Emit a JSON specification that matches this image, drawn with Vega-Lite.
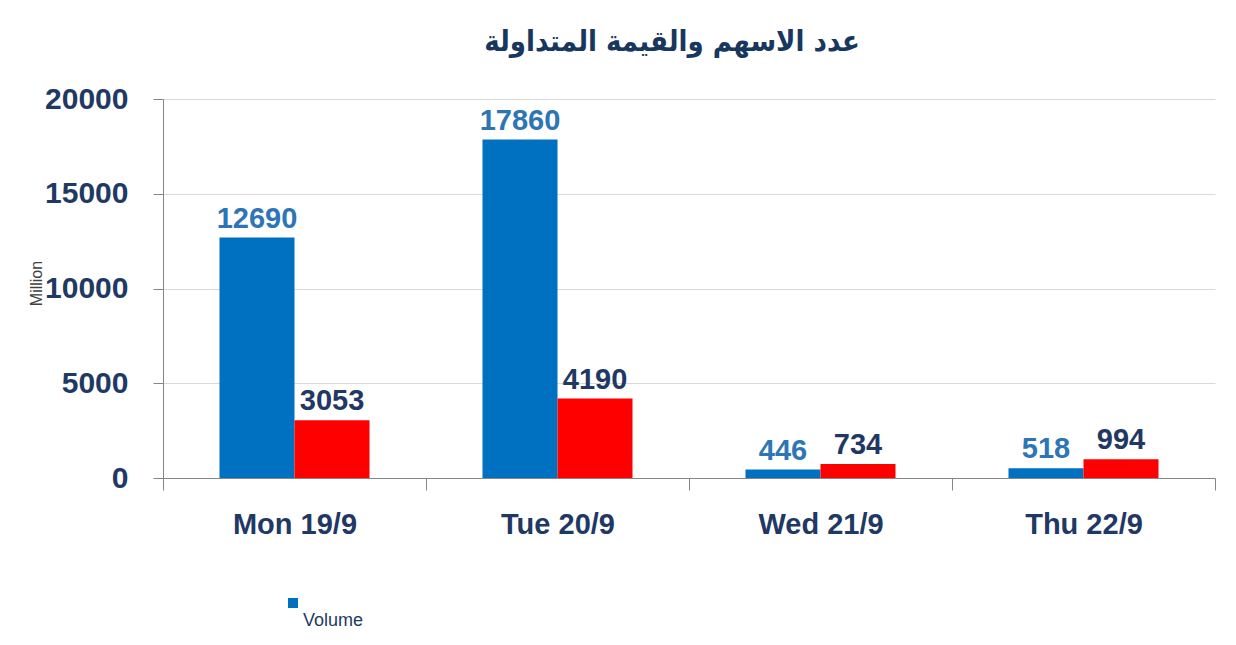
{
  "$schema": "https://vega.github.io/schema/vega-lite/v6.json",
  "width": 1052,
  "height": 379,
  "autosize": "none",
  "padding": {"left": 163, "top": 99, "right": 21, "bottom": 167},
  "background": "white",
  "title": {
    "text": "عدد الاسهم والقيمة المتداولة",
    "font": "DejaVu Sans Condensed",
    "fontSize": 29,
    "fontWeight": "bold",
    "color": "#17375E",
    "anchor": "middle",
    "dx": -17,
    "offset": 27
  },
  "data": {
    "values": [
      {"day": "Mon 19/9", "series": "Volume", "amount": 12690},
      {"day": "Mon 19/9", "series": "Value", "amount": 3053},
      {"day": "Tue 20/9", "series": "Volume", "amount": 17860},
      {"day": "Tue 20/9", "series": "Value", "amount": 4190},
      {"day": "Wed 21/9", "series": "Volume", "amount": 446},
      {"day": "Wed 21/9", "series": "Value", "amount": 734},
      {"day": "Thu 22/9", "series": "Volume", "amount": 518},
      {"day": "Thu 22/9", "series": "Value", "amount": 994}
    ]
  },
  "encoding": {
    "x": {
      "field": "day",
      "type": "nominal",
      "sort": null,
      "scale": {"paddingInner": 0, "paddingOuter": 0},
      "axis": {
        "title": null,
        "labelAngle": 0,
        "labelFont": "Liberation Sans",
        "labelFontSize": 29,
        "labelFontWeight": "bold",
        "labelColor": "#1F3864",
        "labelPadding": 20,
        "tickBand": "extent",
        "tickSize": 12,
        "tickColor": "#868686",
        "domainColor": "#868686",
        "grid": false
      }
    },
    "xOffset": {
      "field": "series",
      "type": "nominal",
      "sort": ["Volume", "Value"],
      "scale": {"paddingInner": 0, "paddingOuter": 0.753}
    },
    "y": {
      "field": "amount",
      "type": "quantitative",
      "scale": {"domain": [0, 20000], "nice": false},
      "axis": {
        "values": [0, 5000, 10000, 15000, 20000],
        "format": "d",
        "title": "Million",
        "titleFont": "Liberation Sans",
        "titleFontSize": 16,
        "titleFontWeight": "normal",
        "titleColor": "#404040",
        "titleAngle": 270,
        "titleAlign": "center",
        "titleBaseline": "middle",
        "titleX": -127,
        "titleY": 184,
        "labelFont": "Liberation Sans",
        "labelFontSize": 30,
        "labelFontWeight": "bold",
        "labelColor": "#1F3864",
        "labelPadding": 25,
        "tickSize": 10,
        "tickColor": "#868686",
        "domainColor": "#868686",
        "gridColor": "#D9D9D9",
        "gridWidth": 1
      }
    }
  },
  "layer": [
    {
      "mark": {"type": "bar"},
      "encoding": {
        "color": {
          "field": "series",
          "type": "nominal",
          "scale": {"domain": ["Volume", "Value"], "range": ["#0070C0", "#FF0000"]},
          "legend": {
            "orient": "none",
            "legendX": 140,
            "legendY": 499,
            "values": ["Volume"],
            "title": "Volume",
            "titleOrient": "bottom",
            "titleAnchor": "start",
            "labelExpr": "''",
            "symbolType": "square",
            "symbolSize": 100,
            "symbolStrokeWidth": 0,
            "symbolOffset": -15,
            "titleFont": "Liberation Sans",
            "titleFontSize": 18,
            "titleFontWeight": "normal",
            "titleColor": "#1F3864",
            "titlePadding": 4,
            "padding": 0
          }
        }
      }
    },
    {
      "mark": {
        "type": "text",
        "baseline": "alphabetic",
        "dy": -10,
        "font": "Liberation Sans",
        "fontSize": 29,
        "fontWeight": "bold"
      },
      "encoding": {
        "text": {"field": "amount", "type": "quantitative", "format": "d"},
        "color": {
          "field": "series",
          "type": "nominal",
          "scale": {"domain": ["Volume", "Value"], "range": ["#2E75B6", "#1F3864"]},
          "legend": null
        }
      }
    }
  ],
  "resolve": {"scale": {"color": "independent"}},
  "config": {"view": {"stroke": null}}
}
